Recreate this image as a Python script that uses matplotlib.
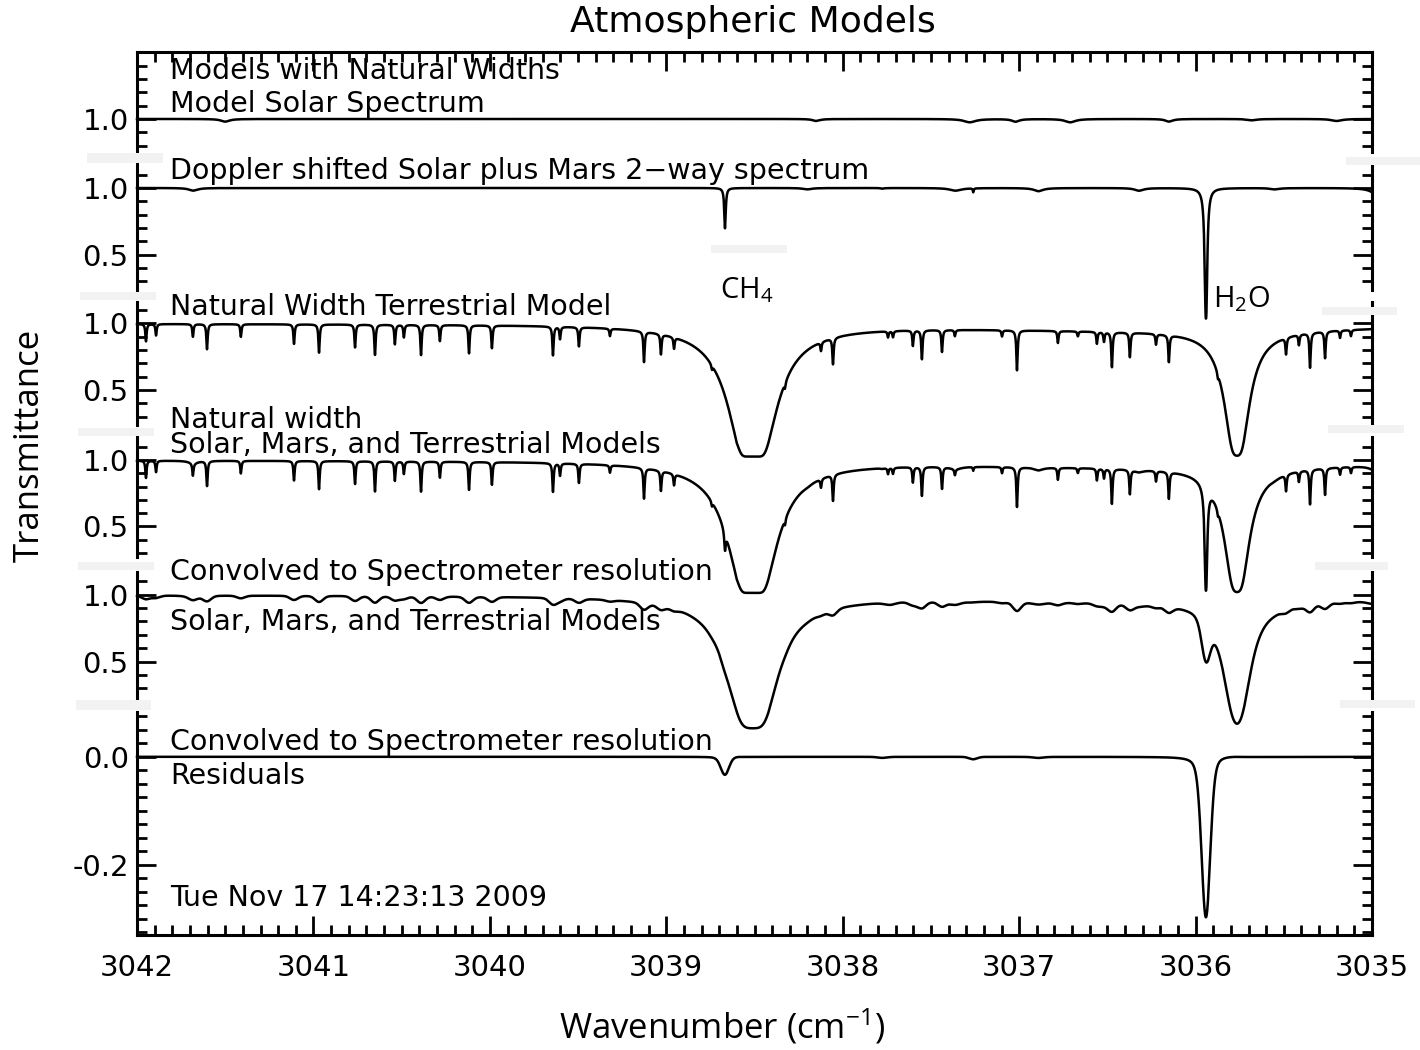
import numpy as np
import matplotlib
matplotlib.use("Agg")
import matplotlib.pyplot as plt
from matplotlib.ticker import MultipleLocator, FixedLocator, FuncFormatter
from matplotlib.patches import Rectangle

plt.rcParams['font.family'] = ['DejaVu Sans']
plt.rcParams['axes.unicode_minus'] = False
plt.rcParams['mathtext.fontset'] = 'custom'
plt.rcParams['mathtext.rm'] = 'Open Sans'
plt.rcParams['mathtext.it'] = 'Open Sans:italic'

# x range of the plot (cm-1), decreasing to the right
wn_left = 3042.0
wn_right = 3035.0

# Model solar spectrum: weak broad lines (centre, optical depth, half width)
solar_wn = [3041.50, 3038.15, 3037.28, 3037.02, 3036.71, 3036.15, 3035.68, 3035.20]
solar_tau = [0.02, 0.015, 0.025, 0.02, 0.025, 0.02, 0.01, 0.015]
solar_gam = [0.03, 0.025, 0.04, 0.025, 0.035, 0.025, 0.03, 0.035]

# Doppler shifted solar lines
shifted_wn = [3041.68, 3038.20, 3037.36, 3036.89, 3036.32, 3035.55, 3034.97]
shifted_tau = [0.02, 0.01, 0.02, 0.02, 0.02, 0.01, 0.05]
shifted_gam = [0.03, 0.03, 0.04, 0.035, 0.03, 0.03, 0.04]

# Mars 2-way lines (CH4, H2O and a few weak ones)
mars_wn = [3038.667, 3035.941, 3037.775, 3037.26, 3036.89]
mars_tau = [0.36, 3.9, 0.005, 0.03, 0.004]
mars_gam = [0.0045, 0.004, 0.01, 0.003, 0.015]

# Terrestrial model: strong CH4 and H2O bands plus a broad continuum
terr_big_wn = [3038.51, 3035.765, 3036.2]
terr_big_tau = [22.0, 5.0, 0.055]
terr_big_gam = [0.03, 0.033, 1.5]

# Terrestrial weak lines (natural width)
terr_wn = [3041.949, 3041.892, 3041.683, 3041.603, 3041.411, 3041.110, 3040.968,
           3040.764, 3040.651, 3040.538, 3040.487, 3040.390, 3040.283, 3040.118,
           3039.988, 3039.642, 3039.602, 3039.495, 3039.319, 3039.126, 3039.030,
           3038.956, 3038.741, 3038.599, 3038.327, 3038.123, 3038.055, 3037.743,
           3037.715, 3037.602, 3037.551, 3037.437, 3037.364, 3037.097, 3037.012,
           3036.780, 3036.667, 3036.559, 3036.519, 3036.474, 3036.372, 3036.224,
           3036.151, 3035.873, 3035.487, 3035.414, 3035.351, 3035.266, 3035.181,
           3035.119]
terr_tau = [0.14, 0.09, 0.10, 0.21, 0.10, 0.16, 0.24,
            0.19, 0.26, 0.16, 0.10, 0.26, 0.13, 0.24,
            0.19, 0.25, 0.10, 0.16, 0.06, 0.28, 0.18,
            0.10, 0.05, 0.10, 0.08, 0.08, 0.25, 0.05,
            0.05, 0.13, 0.26, 0.19, 0.05, 0.05, 0.38,
            0.10, 0.04, 0.10, 0.08, 0.33, 0.22, 0.09,
            0.25, 0.06, 0.15, 0.09, 0.33, 0.24, 0.06,
            0.05]
terr_gam = 0.004

# spectrometer resolution (FWHM, cm-1)
resolution = 0.05

panel_labels = [
    ["Models with Natural Widths", "Model Solar Spectrum"],
    ["Doppler shifted Solar plus Mars 2\u2212way spectrum"],
    ["Natural Width Terrestrial Model"],
    ["Natural width", "Solar, Mars, and Terrestrial Models"],
    ["Convolved to Spectrometer resolution", "Solar, Mars, and Terrestrial Models"],
    ["Convolved to Spectrometer resolution", "Residuals"],
]
date_text = "Tue Nov 17 14:23:13 2009"


def optical_depth(x, centres, taus, gams):
    gams = np.broadcast_to(gams, np.shape(centres))
    tau = np.zeros_like(x)
    for c, t, g in zip(centres, taus, gams):
        tau += t * g * g / ((x - c) ** 2 + g * g)
    return tau


def convolve(x, y, fwhm):
    step = x[1] - x[0]
    sig = fwhm / 2.3548 / step
    half = int(4 * sig)
    k = np.exp(-0.5 * (np.arange(-half, half + 1) / sig) ** 2)
    k /= k.sum()
    ypad = np.concatenate([np.full(half, y[0]), y, np.full(half, y[-1])])
    return np.convolve(ypad, k, mode='valid')


wn = np.linspace(wn_right, wn_left, 14001)
solar = np.exp(-optical_depth(wn, solar_wn, solar_tau, solar_gam))
shifted = np.exp(-optical_depth(wn, shifted_wn, shifted_tau, shifted_gam))
mars = np.exp(-optical_depth(wn, mars_wn, mars_tau, mars_gam))
terr = np.exp(-optical_depth(wn, terr_big_wn, terr_big_tau, terr_big_gam)
              - optical_depth(wn, terr_wn, terr_tau, terr_gam))

doppler = shifted * mars
combined = doppler * terr
convolved = convolve(wn, combined, resolution)
residual = convolved - convolve(wn, shifted * terr, resolution)

curves = [solar, doppler, terr, combined, convolved, residual]

W, H = 1420, 1050
fig = plt.figure(figsize=(W / 100, H / 100), dpi=100)


def fx(px):
    return px / W


def fy(py):
    return 1 - py / H


x0, x1 = 137, 1372
# (top px, bottom px, ylim, labelled ticks, minor step)
panels = [
    (52, 152, (0.752, 1.503), [1.0], 0.1),
    (163, 290, (0.235, 1.1875), [0.5, 1.0], 0.1),
    (302, 425, (0.237, 1.16), [0.5, 1.0], 0.1),
    (437, 557, (0.27, 1.1725), [0.5, 1.0], 0.1),
    (572, 698, (0.227, 1.17), [0.5, 1.0], 0.1),
    (712, 935, (-0.33, 0.083), [-0.2, 0.0], 0.025),
]

fmt = FuncFormatter(lambda v, p: "%.1f" % v)
for i, (top, bot, ylim, majors, minor) in enumerate(panels):
    ax = fig.add_axes([fx(x0), fy(bot), fx(x1) - fx(x0), (bot - top) / H])
    ax.patch.set_visible(False)
    ax.plot(wn, curves[i], color='black', lw=1.8, clip_on=False)
    ax.set_xlim(wn_left, wn_right)
    ax.set_ylim(*ylim)
    for s in ax.spines.values():
        s.set_linewidth(2.2)
    ax.spines['top'].set_visible(i == 0)
    ax.spines['bottom'].set_visible(i == len(panels) - 1)
    ax.yaxis.set_major_locator(FixedLocator(majors))
    ax.yaxis.set_minor_locator(MultipleLocator(minor))
    ax.yaxis.set_major_formatter(fmt)
    ax.xaxis.set_major_locator(MultipleLocator(1))
    ax.xaxis.set_minor_locator(MultipleLocator(0.1))
    ax.tick_params(which='both', direction='in', left=True, right=True,
                   top=(i == 0), bottom=(i == len(panels) - 1),
                   labelbottom=(i == len(panels) - 1), labelsize=21)
    ax.tick_params(which='major', length=14, width=2, pad=6)
    ax.tick_params(which='minor', length=7, width=2)
    ax.tick_params(axis='x', which='major', pad=14)

# panel annotations
text_rows = [(71, 104), (171,), (307,), (420, 445), (572, 622), (742, 776)]
for labels, rows in zip(panel_labels, text_rows):
    for s, r in zip(labels, rows):
        fig.text(fx(170), fy(r), s, fontsize=20.5, va='center', ha='left')
fig.text(fx(170), fy(898), date_text, fontsize=20.5, va='center', ha='left')

fig.text(fx(720), fy(290), r"CH$_4$", fontsize=21, family='Open Sans', va='center', ha='left')
fig.text(fx(1213), fy(299), r"H$_2$O", fontsize=21, family='Open Sans', va='center', ha='left')

fig.text(fx(753), fy(22), "Atmospheric Models", fontsize=26, va='center', ha='center')
fig.text(fx(30), fy(445), "Transmittance", fontsize=25, family='Open Sans',
         rotation=90, va='center', ha='center')
fig.text(fx(722), fy(1027), r"Wavenumber (cm$^{-1}$)", fontsize=25, family='Open Sans',
         va='center', ha='center')

# faint white-out bars where the panels were pasted together
bars = [(87, 153, 76, 10), (80, 292, 76, 8), (78, 428, 76, 8), (78, 562, 76, 8),
        (76, 700, 75, 10), (1346, 157, 74, 8), (1322, 307, 75, 8), (1328, 425, 76, 8),
        (1315, 562, 73, 8), (1340, 700, 75, 8), (711, 245, 76, 8)]
for bx, by, bw, bh in bars:
    fig.patches.append(Rectangle((fx(bx), fy(by + bh)), bw / W, bh / H,
                                 transform=fig.transFigure, color='#f2f2f2',
                                 zorder=5, lw=0))

fig.savefig("out.png", dpi=100)
